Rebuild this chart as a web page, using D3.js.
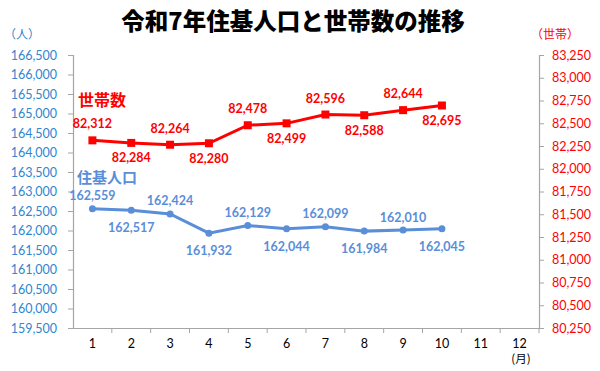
<!DOCTYPE html>
<html><head><meta charset="utf-8">
<script src="https://cdn.jsdelivr.net/npm/d3@7"></script>
<style>body{margin:0;background:#fff}svg{display:block}</style>
</head><body>
<svg id="c" width="600" height="371"></svg>
<script>
const months = [1,2,3,4,5,6,7,8,9,10,11,12];
const monthLabels = ["1","2","3","4","5","6","7","8","9","10","11","12"];
const population = [162559,162517,162424,161932,162129,162044,162099,161984,162010,162045];
const households = [82312,82284,82264,82280,82478,82499,82596,82588,82644,82695];
const popTicks = [159500,160000,160500,161000,161500,162000,162500,163000,163500,164000,164500,165000,165500,166000,166500];
const hhTicks = [80250,80500,80750,81000,81250,81500,81750,82000,82250,82500,82750,83000,83250];
const popLabelPos = ["above","below","above","below","above","below","above","below","above","below"];
const hhLabelPos = ["above","below","above","below","above","below","above","below","above","below"];

const svg = d3.select("#c");
const L = 73, R = 539, T = 55, B = 328;
const numFont = "Lato, 'Noto Sans CJK JP', sans-serif";
const jpFont = "'Noto Sans CJK JP', sans-serif";
const popColor = "#5A8ED8", popAxisColor = "#2F86D1", hhColor = "#FF0000", axisColor = "#A6A6A6";

const x = d3.scaleBand().domain(months).range([L, R]);
const yL = d3.scaleLinear().domain([159500,166500]).range([B, T]);
const yR = d3.scaleLinear().domain([80250,83250]).range([B, T]);
const fmt = d3.format(",");

// title
svg.append("text").attr("x", 293).attr("y", 30).attr("text-anchor","middle")
  .attr("font-family", jpFont).attr("font-weight","900").attr("font-size", 23.5).attr("fill","#000")
  .text("令和7年住基人口と世帯数の推移");
svg.append("text").attr("x", 22).attr("y", 39).attr("text-anchor","middle")
  .attr("font-family", jpFont).attr("font-size", 12).attr("fill", popAxisColor).text("（人）");
svg.append("text").attr("x", 555).attr("y", 39).attr("text-anchor","middle")
  .attr("font-family", jpFont).attr("font-size", 12).attr("fill", hhColor).text("（世帯）");

// left axis
const gl = svg.append("g").attr("transform", `translate(${L},0)`)
  .call(d3.axisLeft(yL).tickValues(popTicks).tickFormat(fmt).tickSize(5).tickPadding(11));
gl.select(".domain").attr("stroke", axisColor).attr("stroke-width", 1.2);
gl.selectAll(".tick line").attr("stroke", axisColor);
gl.selectAll(".tick text").attr("fill", popAxisColor).attr("font-family", numFont).attr("font-size", 12.5);

// right axis
const gr = svg.append("g").attr("transform", `translate(${R},0)`)
  .call(d3.axisRight(yR).tickValues(hhTicks).tickFormat(fmt).tickSize(5).tickPadding(8));
gr.select(".domain").attr("stroke", axisColor).attr("stroke-width", 1.2);
gr.selectAll(".tick line").attr("stroke", axisColor);
gr.selectAll(".tick text").attr("fill", hhColor).attr("font-family", numFont).attr("font-size", 12.5);

// bottom axis
const gb = svg.append("g").attr("transform", `translate(0,${B})`)
  .call(d3.axisBottom(x).tickFormat((d,i)=>monthLabels[i]).tickSize(0).tickPadding(11));
gb.select(".domain").attr("stroke", axisColor).attr("stroke-width", 1.2);
gb.selectAll(".tick text").attr("fill", "#000").attr("font-family", numFont).attr("font-size", 12.5);
// boundary tick marks
svg.append("g").selectAll("line").data(months).join("line")
  .attr("x1", d => x(d) + x.bandwidth()).attr("x2", d => x(d) + x.bandwidth())
  .attr("y1", B).attr("y2", B + 5).attr("stroke", axisColor);
svg.append("text").attr("x", 521).attr("y", 363).attr("text-anchor","middle")
  .attr("font-family", jpFont).attr("font-size", 11.5).attr("fill","#000").text("(月)");

const cx = (d,i) => x(months[i]) + x.bandwidth()/2;

// households
svg.append("path").datum(households)
  .attr("d", d3.line().x(cx).y(d => yR(d)))
  .attr("fill","none").attr("stroke", hhColor).attr("stroke-width", 3);
svg.append("g").selectAll("rect").data(households).join("rect")
  .attr("x", (d,i) => cx(d,i) - 4).attr("y", d => yR(d) - 4).attr("width", 8).attr("height", 8)
  .attr("fill", hhColor);
svg.append("g").selectAll("text").data(households).join("text")
  .attr("x", cx).attr("y", (d,i) => yR(d) + (hhLabelPos[i] === "above" ? -12 : 19.5))
  .attr("text-anchor","middle").attr("font-family", numFont).attr("font-weight","bold")
  .attr("font-size", 12.5).attr("fill", hhColor).text(d => fmt(d));

// population
svg.append("path").datum(population)
  .attr("d", d3.line().x(cx).y(d => yL(d)))
  .attr("fill","none").attr("stroke", popColor).attr("stroke-width", 3);
svg.append("g").selectAll("circle").data(population).join("circle")
  .attr("cx", cx).attr("cy", d => yL(d)).attr("r", 3.5).attr("fill", popColor);
svg.append("g").selectAll("text").data(population).join("text")
  .attr("x", cx).attr("y", (d,i) => yL(d) + (popLabelPos[i] === "above" ? -8.5 : 22))
  .attr("text-anchor","middle").attr("font-family", numFont).attr("font-weight","bold")
  .attr("font-size", 12.5).attr("fill", popColor).text(d => fmt(d));

// series names
svg.append("text").attr("x", 78).attr("y", 106).attr("font-family", jpFont).attr("font-weight","bold")
  .attr("font-size", 16).attr("fill", hhColor).text("世帯数");
svg.append("text").attr("x", 77).attr("y", 183).attr("font-family", jpFont).attr("font-weight","bold")
  .attr("font-size", 15).attr("fill", popColor).text("住基人口");
</script>
</body></html>
